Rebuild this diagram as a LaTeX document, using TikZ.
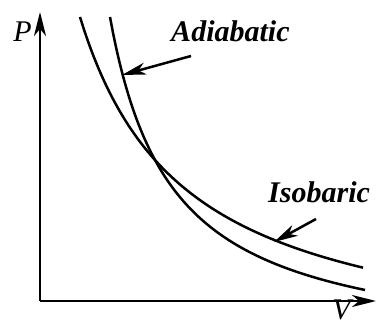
\documentclass[tikz,border=0pt]{standalone}
\usepackage{fontspec}
\setmainfont{Liberation Serif}
\usetikzlibrary{arrows.meta}
\begin{document}
\begin{tikzpicture}[x=1pt,y=1pt,>={Stealth[length=24pt,width=12pt,inset=7pt]},line width=2.5pt,
    font=\fontsize{30}{32}\selectfont,every node/.style={inner sep=0pt,anchor=base west}]
  \useasboundingbox (-40,-24) rectangle (336,301);
  \coordinate (o) at (0,0);
  \coordinate (ptop) at (0,289);
  \coordinate (vend) at (336,0);
  \draw[->] (o)--(ptop);
  \draw[->] (o)--(vend);
  % the two curves
  \draw plot[domain=40:323,samples=80,smooth] (\x,{362.58/((\x+65.4)/100)-60});
  \draw plot[domain=70:325,samples=80,smooth] (\x,{209.10/((\x-8.32)/100)-55});
  \coordinate (atail) at (151,245);
  \coordinate (atip) at (82,226);
  \coordinate (itail) at (276,82);
  \coordinate (itip) at (234,59);
  \draw[->] (atail)--(atip);
  \draw[->] (itail)--(itip);
  \node (p) at (-28,259) {\itshape P};
  \node (v) at (291,-19) {\itshape V};
  \node (adia) at (130,259) {\bfseries\itshape Adiabatic};
  \node (isob) at (227,99) {\bfseries\itshape Isobaric};
\end{tikzpicture}
\end{document}
